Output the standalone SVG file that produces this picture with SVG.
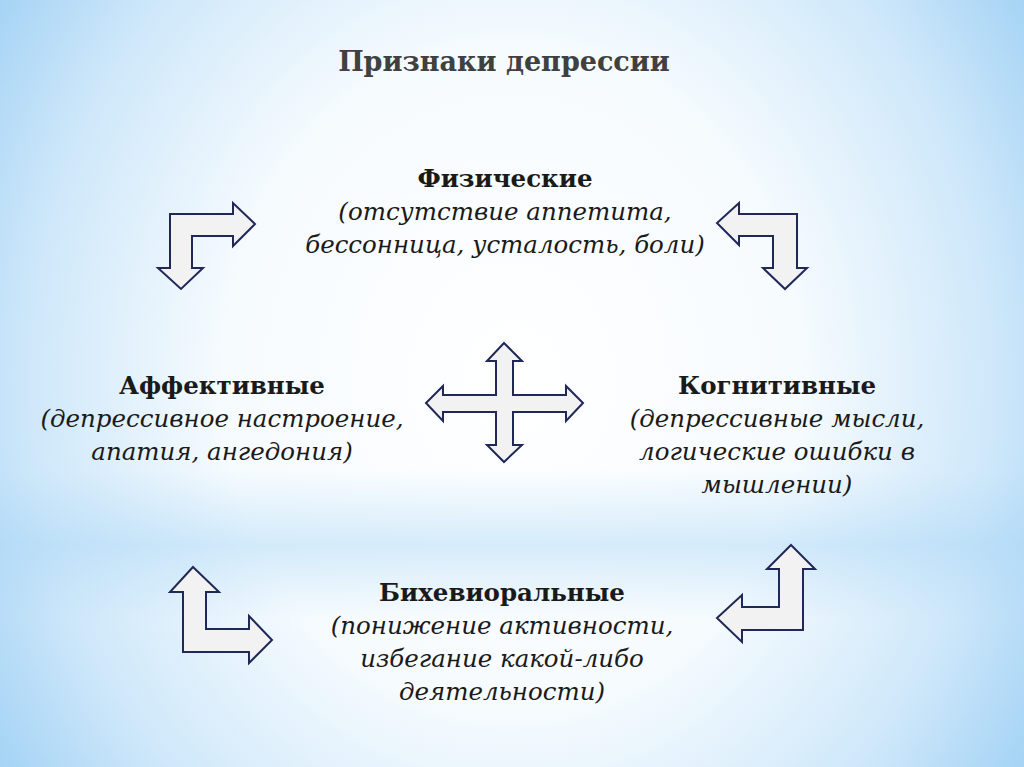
<svg xmlns="http://www.w3.org/2000/svg" width="1024" height="767" viewBox="0 0 1024 767">
<defs>
<radialGradient id="bg" cx="512" cy="380" r="640" gradientUnits="userSpaceOnUse" gradientTransform="translate(512 380) scale(1 1.15) translate(-512 -380)">
<stop offset="0" stop-color="#ffffff"/>
<stop offset="0.45" stop-color="#f6fbfe"/>
<stop offset="0.75" stop-color="#cfe8fa"/>
<stop offset="1" stop-color="#9ccff4"/>
</radialGradient>
<linearGradient id="band" x1="0" y1="0" x2="0" y2="1">
<stop offset="0" stop-color="#a8d6f6" stop-opacity="0"/>
<stop offset="0.5" stop-color="#a8d6f6" stop-opacity="0.45"/>
<stop offset="1" stop-color="#a8d6f6" stop-opacity="0"/>
</linearGradient>
</defs>
<style>
.t{font-family:"DejaVu Serif","Liberation Serif",serif;fill:#1a1a1a;text-anchor:middle}
.h{font-weight:bold;font-size:24.5px}
.i{font-style:italic;font-size:24.5px}
.title{font-family:"DejaVu Serif","Liberation Serif",serif;font-weight:bold;font-size:27px;fill:#404040;text-anchor:middle}
.ar{fill:#f2f2f2;stroke:#1f2857;stroke-width:2;stroke-linejoin:miter}
</style>
<rect width="1024" height="767" fill="url(#bg)"/>
<rect x="0" y="470" width="1024" height="150" fill="url(#band)"/>
<text class="title" x="504" y="71">Признаки депрессии</text>
<g id="physical">
<text class="t h" x="505" y="187">Физические</text>
<text class="t i" x="505" y="220">(отсутствие аппетита,</text>
<text class="t i" x="505" y="253">бессонница, усталость, боли)</text>
</g>
<g id="affective">
<text class="t h" x="222" y="394">Аффективные</text>
<text class="t i" x="222" y="427">(депрессивное настроение,</text>
<text class="t i" x="222" y="460">апатия, ангедония)</text>
</g>
<g id="cognitive">
<text class="t h" x="777" y="394">Когнитивные</text>
<text class="t i" x="777" y="427">(депрессивные мысли,</text>
<text class="t i" x="777" y="460">логические ошибки в</text>
<text class="t i" x="777" y="493">мышлении)</text>
</g>
<g id="behavioral">
<text class="t h" x="502" y="601">Бихевиоральные</text>
<text class="t i" x="502" y="634">(понижение активности,</text>
<text class="t i" x="502" y="667">избегание какой-либо</text>
<text class="t i" x="502" y="700">деятельности)</text>
</g>
<g id="connectors">
<path class="ar" d="M170,214 L233,214 L233,203 L255,224 L233,246 L233,236 L192,236 L192,268 L203,268 L181,289 L158,268 L170,268 Z"/>
<path class="ar" d="M797,214 L739,214 L739,203 L717,223 L739,245 L739,236 L773,236 L773,268 L763,268 L785,289 L807,268 L797,268 Z"/>
<path class="ar" d="M504,343 L522,361 L513,361 L513,395 L566,395 L566,386 L583,403 L566,421 L566,412 L513,412 L513,445 L522,445 L504,462 L487,445 L496,445 L496,412 L443,412 L443,421 L426,403 L443,386 L443,395 L496,395 L496,361 L487,361 Z"/>
<path class="ar" d="M193,567 L219,592 L206,592 L206,629 L249,629 L249,616 L272,640 L249,663 L249,652 L183,652 L183,592 L170,592 Z"/>
<path class="ar" d="M791,545 L815,569 L803,569 L803,630 L742,630 L742,642 L717,618 L742,595 L742,607 L779,607 L779,569 L767,569 Z"/>
</g>
</svg>
